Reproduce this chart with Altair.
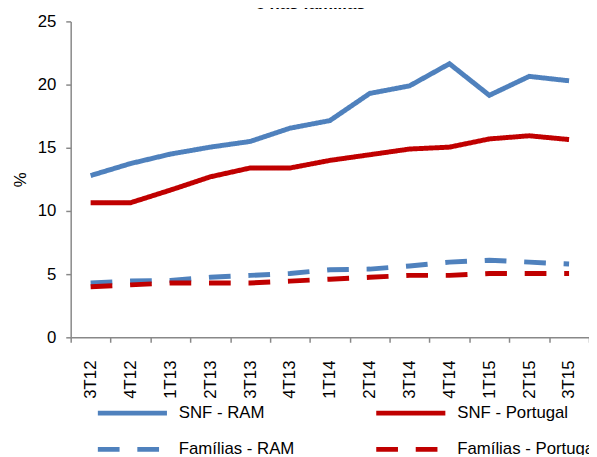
import altair as alt
import pandas as pd

quarters = ["3T12", "4T12", "1T13", "2T13", "3T13", "4T13", "1T14",
            "2T14", "3T14", "4T14", "1T15", "2T15", "3T15"]
snf_ram = [12.8, 13.75, 14.5, 15.05, 15.5, 16.55, 17.15, 19.3, 19.9, 21.65, 19.15, 20.65, 20.3]
snf_pt = [10.65, 10.65, 11.65, 12.7, 13.4, 13.4, 14.0, 14.45, 14.9, 15.05, 15.7, 15.95, 15.65]
fam_ram = [4.3, 4.45, 4.5, 4.75, 4.9, 5.05, 5.35, 5.4, 5.65, 5.95, 6.1, 5.95, 5.8]
fam_pt = [4.0, 4.15, 4.3, 4.3, 4.3, 4.45, 4.6, 4.75, 4.9, 4.9, 5.05, 5.05, 5.05]
series_names = ["SNF - RAM", "SNF - Portugal", "Famílias - RAM", "Famílias - Portugal"]
# legend is filled column by column: order so rows read SNF / Famílias
legend_order = ["SNF - RAM", "Famílias - RAM", "SNF - Portugal", "Famílias - Portugal"]
series_colors = ["#4f81bd", "#4f81bd", "#c00000", "#c00000"]
series_dash = [[1, 0], [22, 18], [1, 0], [22, 18]]

rows = []
for name, vals in zip(series_names, [snf_ram, snf_pt, fam_ram, fam_pt]):
    for q, v in zip(quarters, vals):
        rows.append({"Trimestre": q, "Série": name, "Valor": v})
df = pd.DataFrame(rows)

FONT = "Liberation Sans"

lines = alt.Chart(df).mark_line(strokeWidth=5, strokeCap="butt", strokeJoin="miter").encode(
    x=alt.X("Trimestre:N", sort=quarters, scale=alt.Scale(paddingInner=0, paddingOuter=0),
            axis=alt.Axis(title=None, labelAngle=-90, labelFontSize=17, labelFont=FONT,
                          labelColor="#000", labelPadding=18, tickSize=5, tickBand="extent",
                          domainColor="#888", tickColor="#888", domainWidth=1.5, tickWidth=1.5)),
    y=alt.Y("Valor:Q", scale=alt.Scale(domain=[0, 25], nice=False),
            axis=alt.Axis(title="%", titleFontSize=17, titleFont=FONT, titleFontWeight="normal",
                          titleColor="#000", titlePadding=8, values=[0, 5, 10, 15, 20, 25],
                          labelFontSize=17, labelFont=FONT, labelColor="#000", labelPadding=10,
                          tickSize=5, grid=False, domainColor="#888", tickColor="#888",
                          domainWidth=1.5, tickWidth=1.5)),
    color=alt.Color("Série:N", sort=legend_order,
                    scale=alt.Scale(domain=legend_order, range=series_colors),
                    legend=alt.Legend(title=None, orient="none", legendX=50, legendY=384,
                                      columns=2, symbolType="M-3.5,0H3.5", symbolSize=400,
                                      symbolStrokeWidth=5, labelFontSize=17, labelFont=FONT,
                                      labelColor="#000", columnPadding=72, rowPadding=14,
                                      labelOffset=34.5, labelLimit=300)),
    strokeDash=alt.StrokeDash("Série:N", sort=legend_order,
                              scale=alt.Scale(domain=legend_order, range=series_dash),
                              legend=None),
)

title = alt.Chart(pd.DataFrame({"t": ["e nas famílias"]})).mark_text(
    font=FONT, fontSize=17, fontWeight="bold", baseline="alphabetic", align="center"
).encode(text="t:N", x=alt.value(243), y=alt.value(-13))

chart = alt.layer(lines, title).properties(
    width=525, height=320,
    autosize=alt.AutoSizeParams(type="none"),
    padding={"left": 63.5, "top": 10.7, "right": 0, "bottom": 116},
).configure_view(stroke=None)

chart.save("out.html", embed_options={"renderer": "svg", "actions": False})
